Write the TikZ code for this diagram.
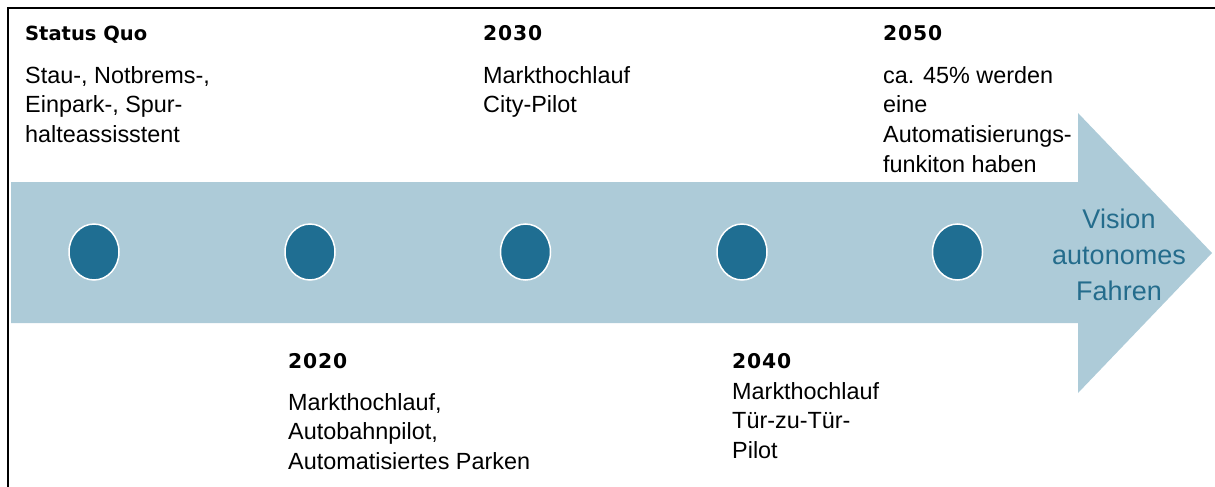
\documentclass[tikz,border=0pt]{standalone}
\usepackage{fontspec}
\usetikzlibrary{shapes.geometric}
\setmainfont{Liberation Sans}
\newfontfamily\titlefont{DejaVu Sans}
\newfontfamily\yearfont{DejaVu Sans}[LetterSpace=4]

\definecolor{bandblue}{RGB}{173,203,216}
\definecolor{dotblue}{RGB}{31,110,146}
\definecolor{visionblue}{RGB}{36,108,140}

% stacked lines, first baseline is the box baseline
\newcommand\leftlines[1]{\vtop{\halign{##\hfil\cr#1\crcr}}}
\newcommand\centerlines[1]{\vtop{\halign{\hfil##\hfil\cr#1\crcr}}}

\tikzset{
  bodytext/.style={anchor=base west, inner sep=0pt, font=\fontsize{23.4}{29.7}\selectfont},
  yeartext/.style={anchor=base west, inner sep=0pt, font=\yearfont\bfseries\fontsize{20.3}{24}\selectfont},
  titletext/.style={anchor=base west, inner sep=0pt, font=\titlefont\bfseries\fontsize{19.5}{24}\selectfont},
  visiontext/.style={anchor=base, inner sep=0pt, text=visionblue, font=\fontsize{27}{36}\selectfont},
  milestone/.style={ellipse, draw=white, line width=1.5pt, fill=dotblue,
    minimum width=50pt, minimum height=56pt, inner sep=0pt},
}

\begin{document}
\begin{tikzpicture}[x=1pt, y=-1pt]
\useasboundingbox (0,0) rectangle (1215,487);

% frame lines on the top and left
\draw[line width=2.5pt] (7.8,487) -- (7.8,7.8) -- (1215,7.8);

% timeline arrow
\fill[bandblue] (11,182) -- (1078,182) -- (1078,113) -- (1212,253)
  -- (1078,393) -- (1078,323) -- (11,323) -- cycle;

% milestones
\node[milestone] (m0) at (94,252) {};
\node[milestone] (m1) at (310,252) {};
\node[milestone] (m2) at (525.5,252) {};
\node[milestone] (m3) at (742,252) {};
\node[milestone] (m4) at (957.5,252) {};

% Status Quo
\node[titletext] (hsq) at (25,41) {Status Quo};
\node[bodytext] (tsq) at (25,83) {\leftlines{Stau-, Notbrems-,\cr Einpark-, Spur-\cr halteassisstent}};

% 2020
\node[yeartext] (h2020) at (288,368) {2020};
\node[bodytext] (t2020) at (288,410) {\leftlines{Markthochlauf,\cr Autobahnpilot,\cr Automatisiertes Parken}};

% 2030
\node[yeartext] (h2030) at (483,41) {2030};
\node[bodytext] (t2030) at (483,83) {\leftlines{Markthochlauf\cr City-Pilot}};

% 2040
\node[yeartext] (h2040) at (732,368) {2040};
\node[bodytext] (t2040) at (732,399) {\leftlines{Markthochlauf\cr Tür-zu-Tür-\cr Pilot}};

% 2050
\node[yeartext] (h2050) at (883,41) {2050};
\node[bodytext] (t2050) at (883,83) {\leftlines{ca. 45\% werden\cr eine\cr Automatisierungs-\cr funkiton haben}};

% arrow label
\node[visiontext] (vision) at (1119,228) {\centerlines{Vision\cr autonomes\cr Fahren}};
\end{tikzpicture}
\end{document}
